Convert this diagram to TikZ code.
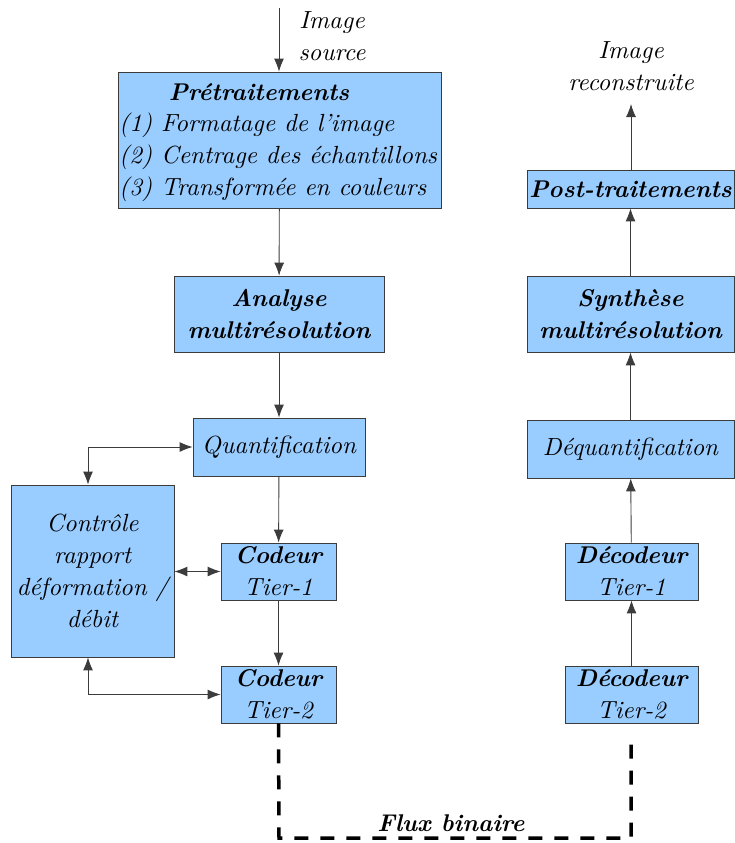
\documentclass[tikz,border=0pt]{standalone}
\usepackage{fontspec}
\setmainfont{lmroman10-regular.otf}[ItalicFont=lmroman10-italic.otf,BoldFont=lmroman10-bold.otf,BoldItalicFont=lmroman10-bolditalic.otf]
\usetikzlibrary{arrows.meta,calc}
\definecolor{boxblue}{RGB}{153,204,255}
\definecolor{edge}{RGB}{60,60,60}
\newcommand{\bif}{\fontsize{24.2}{32}\selectfont\bfseries\itshape}
\begin{document}
\begin{tikzpicture}[x=1pt,y=-1pt,
  every node/.style={font=\fontsize{24.8}{32}\selectfont\itshape},
  blk/.style={draw=edge,fill=boxblue,line width=0.8pt,inner sep=0pt,align=center},
  arr/.style={draw=edge,line width=0.9pt,-{Latex[length=13pt,width=10pt]}},
  darr/.style={draw=edge,line width=0.9pt,{Latex[length=13pt,width=10pt]}-{Latex[length=13pt,width=10pt]}},
  flux/.style={line width=3.5pt,dash pattern=on 14pt off 12pt}]
\useasboundingbox (0,0) rectangle (735,843);
% left column
\node[blk,minimum width=323pt,minimum height=136pt] (pre) at (279.5,140) {};
\node[font=\bif] (pret) at (259,92) {Prétraitements};
\node[anchor=west,inner sep=0pt] (l1) at (119,125) {(1) Formatage de l'image};
\node[anchor=west,inner sep=0pt] (l2) at (119,157) {(2) Centrage des échantillons};
\node[anchor=west,inner sep=0pt] (l3) at (119,189) {(3) Transformée en couleurs};
\node[blk,minimum width=210pt,minimum height=76pt,font=\bif] (ana) at (279,314) {Analyse\\multirésolution};
\node[blk,minimum width=172pt,minimum height=58pt] (quant) at (279,447) {Quantification};
\node[blk,minimum width=163pt,minimum height=172pt] (ctrl) at (92.5,571) {Contrôle\\rapport\\déformation /\\débit};
\node[blk,minimum width=115pt,minimum height=57pt] (cod1) at (278.5,571.5) {{\bif Codeur}\\Tier-1};
\node[blk,minimum width=115pt,minimum height=57pt] (cod2) at (278.5,694.5) {{\bif Codeur}\\Tier-2};
\node[align=center] (src) at (332,36) {Image\\source};
\coordinate (srctop) at (279,8);
% right column
\node[blk,minimum width=207pt,minimum height=38pt,font=\bif] (post) at (630.5,189) {Post-traitements};
\node[blk,minimum width=207pt,minimum height=76pt,font=\bif] (syn) at (630.5,314) {Synthèse\\multirésolution};
\node[blk,minimum width=207pt,minimum height=58pt] (deq) at (630.5,449) {Déquantification};
\node[blk,minimum width=133pt,minimum height=57pt] (dec1) at (631.5,571.5) {{\bif Décodeur}\\Tier-1};
\node[blk,minimum width=133pt,minimum height=57pt] (dec2) at (631.5,694.5) {{\bif Décodeur}\\Tier-2};
\node[align=center] (rec) at (631,66) {Image\\reconstruite};
\coordinate (rectip) at (631,104);
% connectors left
\draw[arr] (srctop) -- (srctop |- pre.north);
\draw[arr] (pre) -- (ana);
\draw[arr] (ana) -- (quant);
\draw[arr] (quant) -- (cod1);
\draw[arr] (cod1) -- (cod2);
\draw[darr] ([xshift=-4.5pt]ctrl.north) |- (quant.west);
\draw[darr] (ctrl.east |- cod1.west) -- (cod1.west);
\draw[darr] ([xshift=-4.5pt]ctrl.south) |- (cod2.west);
% connectors right
\draw[arr] (dec2) -- (dec1);
\draw[arr] (dec1) -- (deq);
\draw[arr] (deq) -- (syn);
\draw[arr] (syn) -- (post);
\draw[arr] (post.north -| rectip) -- (rectip);
% bit stream
\coordinate (fb1) at (279,838);
\coordinate (fb2) at (631,838);
\coordinate (fb3) at (631,743);
\draw[flux] (cod2.south) -- (fb1) -- (fb2) -- (fb3);
\node[font=\bif] (fx) at (451,823) {Flux binaire};
\end{tikzpicture}
\end{document}
